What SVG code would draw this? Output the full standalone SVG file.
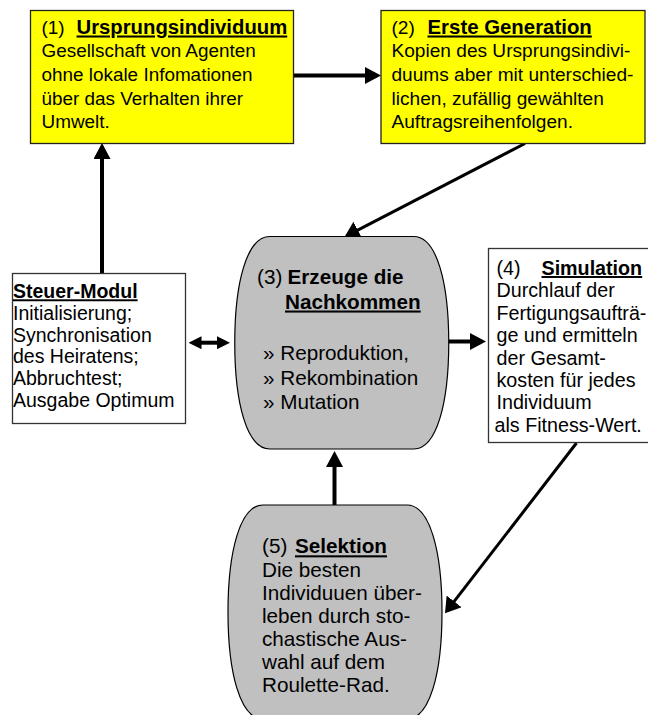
<svg xmlns="http://www.w3.org/2000/svg" width="648" height="715" viewBox="0 0 648 715">
<style>
text{font-family:"Liberation Sans",Arial,sans-serif;fill:#000}
.bx{font-size:19.5px}
.t1{font-size:18.9px}
.t2{font-size:19.1px}
.t4{font-size:19.7px}
.sh{font-size:20.7px}
.b{font-weight:bold}
.u{text-decoration:underline}
.yel{fill:#FFFF00;stroke:#222;stroke-width:1.3}
.wht{fill:#fff;stroke:#333;stroke-width:1.3}
.gry{fill:#C0C0C0;stroke:#000;stroke-width:1.2}
.c4{stroke:#000;stroke-width:4;fill:none}
.c3{stroke:#000;stroke-width:3;fill:none}
</style>
<defs>
<marker id="a4" viewBox="0 0 16 17" markerWidth="16" markerHeight="17" refX="5" refY="8.5" orient="auto" markerUnits="userSpaceOnUse"><path d="M0,0 L16,8.5 L0,17 Z" fill="#000"/></marker>
<marker id="a3" viewBox="0 0 15 19" markerWidth="15" markerHeight="19" refX="5" refY="9.5" orient="auto" markerUnits="userSpaceOnUse"><path d="M0,0 L15,9.5 L0,19 Z" fill="#000"/></marker>
<marker id="a2" viewBox="0 0 13 13" markerWidth="13" markerHeight="13" refX="4" refY="6.5" orient="auto-start-reverse" markerUnits="userSpaceOnUse"><path d="M0,0 L13,6.5 L0,13 Z" fill="#000"/></marker>
</defs>

<g id="connectors">
<line class="c4" x1="293.5" y1="75.5" x2="370" y2="75.5" marker-end="url(#a4)"/>
<line class="c4" x1="102" y1="273" x2="102" y2="154" marker-end="url(#a4)"/>
<line class="c3" x1="525" y1="143.5" x2="353.4" y2="232.4" marker-end="url(#a3)"/>
<line class="c4" x1="197.5" y1="342.7" x2="221" y2="342.7" stroke-width="4.5" marker-start="url(#a2)" marker-end="url(#a2)"/>
<line class="c4" x1="448.5" y1="341.5" x2="475" y2="341.5" marker-end="url(#a4)"/>
<line class="c3" x1="576.5" y1="443" x2="451.1" y2="605.4" marker-end="url(#a3)"/>
<line class="c4" x1="334.5" y1="505" x2="334.5" y2="462" marker-end="url(#a4)"/>
</g>

<g id="node1">
<rect class="yel" x="30.5" y="10.5" width="263" height="133"/>
<text class="t1" x="41.5" y="33.5">(1)<tspan class="b u" x="76.5" font-size="20.3">Ursprungsindividuum</tspan></text>
<text class="t1" x="41.5" y="57.2">Gesellschaft von Agenten</text>
<text class="t1" x="41.5" y="81">ohne lokale Infomationen</text>
<text class="t1" x="41.5" y="104.7">über das Verhalten ihrer</text>
<text class="t1" x="41.5" y="128.4">Umwelt.</text>
</g>

<g id="node2">
<rect class="yel" x="381" y="10.5" width="264" height="133"/>
<text class="t2" x="391.5" y="33.5">(2)<tspan class="b u" x="427.5" font-size="20.4">Erste Generation</tspan></text>
<text class="t2" x="391.5" y="57.2">Kopien des Ursprungsindivi-</text>
<text class="t2" x="391.5" y="81">duums aber mit unterschied-</text>
<text class="t2" x="391.5" y="104.7">lichen, zufällig gewählten</text>
<text class="t2" x="391.5" y="128.4">Auftragsreihenfolgen.</text>
</g>

<g id="node-steuer">
<rect class="wht" x="12.5" y="273.5" width="173" height="150"/>
<text class="bx b u" x="13" y="298.3">Steuer-Modul</text>
<text class="bx" x="13" y="319.8">Initialisierung;</text>
<text class="bx" x="13" y="341.5">Synchronisation</text>
<text class="bx" x="13" y="363.3">des Heiratens;</text>
<text class="bx" x="13" y="385">Abbruchtest;</text>
<text class="bx" x="13" y="406.7">Ausgabe Optimum</text>
</g>

<g id="node3">
<path class="gry" d="M269.75,236.5 L413.75,236.5 C436.75,236.5 448.75,282.75 448.75,342.75 C448.75,402.75 436.75,449 413.75,449 L269.75,449 C246.75,449 234.75,402.75 234.75,342.75 C234.75,282.75 246.75,236.5 269.75,236.5 Z"/>
<text class="sh" x="257" y="284">(3) <tspan class="b" x="287.5">Erzeuge die</tspan></text>
<text class="sh b u" x="285" y="308.5">Nachkommen</text>
<text class="sh" x="263" y="360">» Reproduktion,</text>
<text class="sh" x="263" y="384.5">» Rekombination</text>
<text class="sh" x="263" y="409">» Mutation</text>
</g>

<g id="node4">
<rect class="wht" x="488.5" y="248.5" width="175" height="194"/>
<text class="t4" x="496.5" y="275">(4)<tspan class="b u" x="541.5">Simulation</tspan></text>
<text class="t4" x="496.5" y="297.4">Durchlauf der</text>
<text class="t4" x="496.5" y="319.8">Fertigungsaufträ-</text>
<text class="t4" x="496.5" y="342.2">ge und ermitteln</text>
<text class="t4" x="496.5" y="364.6">der Gesamt-</text>
<text class="t4" x="496.5" y="387">kosten für jedes</text>
<text class="t4" x="496.5" y="409.4">Individuum</text>
<text class="t4" x="494.5" y="431.8">als Fitness-Wert.</text>
</g>

<g id="node5">
<path class="gry" d="M263,505 L407,505 C430,505 442,551.5 442,612 C442,672.5 430,719 407,719 L263,719 C240,719 228,672.5 228,612 C228,551.5 240,505 263,505 Z"/>
<text class="sh" x="262" y="553.3">(5) <tspan class="b u" x="295">Selektion</tspan></text>
<text class="sh" x="262" y="577">Die besten</text>
<text class="sh" x="262" y="600">Individuuen über-</text>
<text class="sh" x="262" y="623">leben durch sto-</text>
<text class="sh" x="262" y="646">chastische Aus-</text>
<text class="sh" x="262" y="669">wahl auf dem</text>
<text class="sh" x="262" y="692">Roulette-Rad.</text>
</g>
</svg>
